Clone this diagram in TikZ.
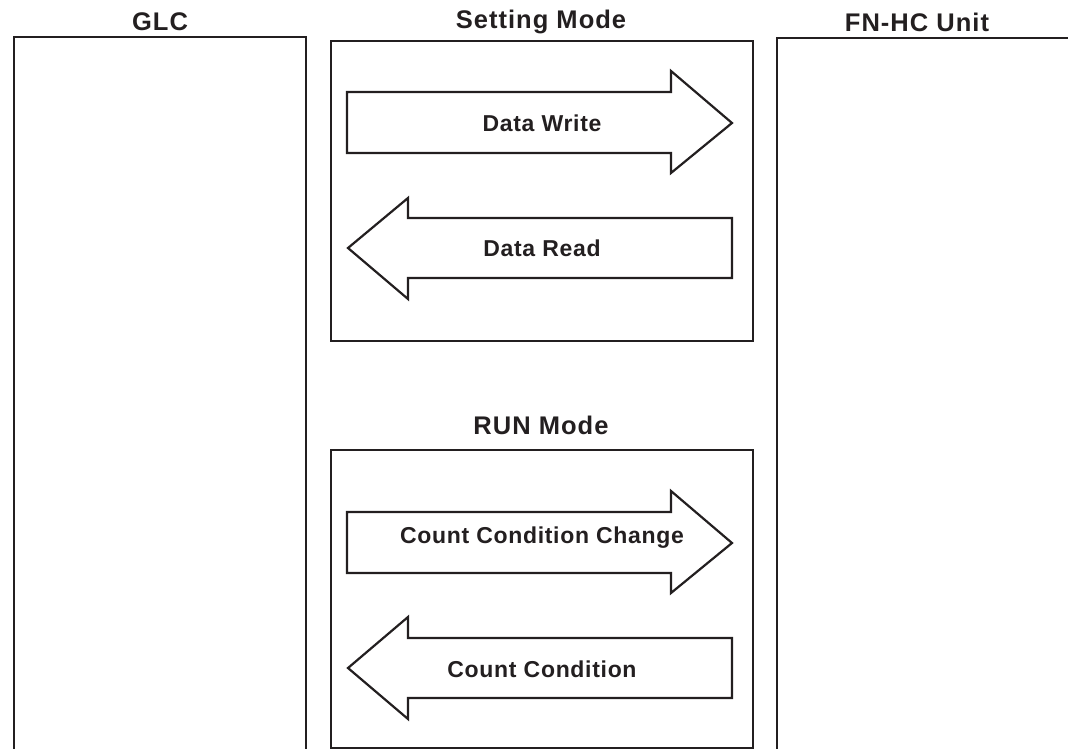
\documentclass[tikz,border=0pt]{standalone}
\usepackage{fontspec}
\setmainfont{Liberation Sans}
\newfontfamily\titlefont[LetterSpace=4]{Liberation Sans}
\newfontfamily\labfont[LetterSpace=3]{Liberation Sans}
\definecolor{ink}{HTML}{231F20}
\begin{document}
\begin{tikzpicture}[x=1pt,y=-1pt,
  frame/.style={draw=ink,line width=2.8pt},
  bigarrow/.style={draw=ink,line width=2.2pt,line join=miter,fill=white},
  title/.style={font=\titlefont\bfseries\fontsize{25.5}{28}\selectfont,text=ink,inner sep=0pt},
  lab/.style={font=\labfont\bfseries\fontsize{23}{25}\selectfont,text=ink,inner sep=0pt}]
\useasboundingbox (0,0) rectangle (1068,749);
% outer frames
\draw[frame] (14,760) -- (14,37) -- (306,37) -- (306,760);
\draw[frame] (777,760) -- (777,38) -- (1080,38);
\draw[frame] (331,41) rectangle (753,341);
\draw[frame] (331,450) rectangle (753,748);
% titles
\node[title] (glc) at (160,22) {GLC};
\node[title] (set) at (541,22) {Setting Mode};
\node[title] (fn) at (917,22) {FN-HC Unit};
\node[title] (run) at (541,425) {RUN Mode};
% setting mode arrows
\draw[bigarrow] (347,92) -- (671,92) -- (671,71) -- (732,123) -- (671,173) -- (671,153) -- (347,153) -- cycle;
\node[lab] (dw) at (542,123) {Data Write};
\draw[bigarrow] (732,218) -- (408,218) -- (408,198) -- (348,248) -- (408,299) -- (408,278) -- (732,278) -- cycle;
\node[lab] (dr) at (542,248) {Data Read};
% run mode arrows
\draw[bigarrow] (347,512) -- (671,512) -- (671,491) -- (732,543) -- (671,593) -- (671,573) -- (347,573) -- cycle;
\node[lab] (ccc) at (542,538) {Count Condition Change};
\draw[bigarrow] (732,638) -- (408,638) -- (408,617) -- (348,668) -- (408,719) -- (408,698) -- (732,698) -- cycle;
\node[lab] (cc) at (542,669) {Count Condition};
\end{tikzpicture}
\end{document}
